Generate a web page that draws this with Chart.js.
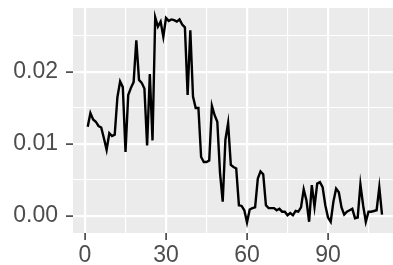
<!DOCTYPE html>
<html>
<head>
<meta charset="utf-8">
<script src="https://cdn.jsdelivr.net/npm/chart.js@4/dist/chart.umd.min.js"></script>
<style>
  html, body { margin: 0; padding: 0; background: #ffffff; overflow: hidden; }
</style>
</head>
<body>
<canvas id="myChart" width="393" height="265"></canvas>
<script>
// series values, one per step (x = 1 .. 110)
const values = [
  0.0124, 0.0143, 0.0134, 0.0131, 0.0125, 0.0123, 0.0108, 0.0092, 0.0115, 0.0111,
  0.0113, 0.0165, 0.0187, 0.0179, 0.0089, 0.0168, 0.0178, 0.0186, 0.0244, 0.0189,
  0.0185, 0.0177, 0.0098, 0.0197, 0.0105, 0.0276, 0.0263, 0.0270, 0.0249, 0.0275,
  0.0271, 0.0273, 0.0272, 0.0270, 0.0273, 0.0266, 0.0262, 0.0168, 0.0258, 0.0166,
  0.0150, 0.0150, 0.0082, 0.0075, 0.0075, 0.0077, 0.0153, 0.0140, 0.0131, 0.0060,
  0.0020, 0.0106, 0.0129, 0.0071, 0.0068, 0.0066, 0.0015, 0.0014, 0.0008, -0.0009,
  0.0009, 0.0011, 0.0012, 0.0052, 0.0062, 0.0058, 0.0015, 0.0011, 0.0011, 0.0011,
  0.0008, 0.0010, 0.0006, 0.0006, 0.0001, 0.0004, 0.0001, 0.0007, 0.0006, 0.0012,
  0.0037, 0.0022, -0.0008, 0.0043, 0.0013, 0.0045, 0.0047, 0.0040, 0.0015, -0.0002,
  -0.0008, 0.0020, 0.0038, 0.0033, 0.0012, 0.0002, 0.0006, 0.0008, 0.0010, -0.0003,
  -0.0002, 0.0044, 0.0015, -0.0008, 0.0006, 0.0006, 0.0007, 0.0008, 0.0040, 0.0002
];
const steps = values.map((v, i) => i + 1);

// ticks: majors get labels, minors only a grid line
const xTicks = [0, 15, 30, 45, 60, 75, 90, 105];
const xLabels = [0, 30, 60, 90];
const yTicks = [0, 0.005, 0.01, 0.015, 0.02, 0.025];
const yLabels = ["0.00", "0.01", "0.02"];

const panelBg = {
  id: "panelBg",
  beforeDraw(chart) {
    const a = chart.chartArea;
    chart.ctx.save();
    chart.ctx.fillStyle = "#EBEBEB";
    chart.ctx.fillRect(a.left, a.top, a.right - a.left, a.bottom - a.top);
    chart.ctx.restore();
  }
};

const isMajorX = v => xLabels.includes(v);
const isMajorY = v => Math.abs(v * 100 - Math.round(v * 100)) < 1e-6;

let ctx = document.getElementById("myChart").getContext("2d");
new Chart(ctx, {
  type: "line",
  data: {
    datasets: [{
      data: steps.map((x, i) => ({ x: x, y: values[i] })),
      borderColor: "#000000",
      borderWidth: 2.4,
      pointRadius: 0,
      tension: 0,
      fill: false
    }]
  },
  options: {
    responsive: false,
    animation: false,
    devicePixelRatio: 1,
    layout: { padding: { top: 8, left: 0, right: 0, bottom: 0 } },
    plugins: { legend: { display: false }, tooltip: { enabled: false } },
    scales: {
      x: {
        type: "linear",
        min: -4.45,
        max: 114.07,
        afterBuildTicks: s => { s.ticks = xTicks.map(v => ({ value: v })); },
        afterFit: s => { s.height = 32; s.paddingLeft = 0; s.paddingRight = 0; },
        border: { display: false },
        grid: {
          color: "#FFFFFF",
          lineWidth: c => isMajorX(c.tick.value) ? 2.2 : 1.1,
          drawTicks: true,
          tickLength: 7,
          tickWidth: 1.5,
          tickColor: c => isMajorX(c.tick.value) ? "#333333" : "rgba(0,0,0,0)"
        },
        ticks: {
          autoSkip: false,
          maxRotation: 0,
          padding: 2,
          color: "#4D4D4D",
          font: { family: "Liberation Sans, Arial, sans-serif", size: 23 },
          callback: v => isMajorX(v) ? String(v) : ""
        }
      },
      y: {
        min: -0.00236,
        max: 0.02889,
        afterBuildTicks: s => { s.ticks = yTicks.map(v => ({ value: v })); },
        afterFit: s => { s.width = 73; s.paddingTop = 0; s.paddingBottom = 0; },
        border: { display: false },
        grid: {
          color: "#FFFFFF",
          lineWidth: c => isMajorY(c.tick.value) ? 2.2 : 1.1,
          drawTicks: true,
          tickLength: 7,
          tickWidth: 1.5,
          tickColor: c => isMajorY(c.tick.value) ? "#333333" : "rgba(0,0,0,0)"
        },
        ticks: {
          autoSkip: false,
          padding: 8,
          color: "#4D4D4D",
          font: { family: "Liberation Sans, Arial, sans-serif", size: 23 },
          callback: v => isMajorY(v) ? v.toFixed(2) : ""
        }
      }
    }
  },
  plugins: [panelBg]
});
</script>
</body>
</html>
